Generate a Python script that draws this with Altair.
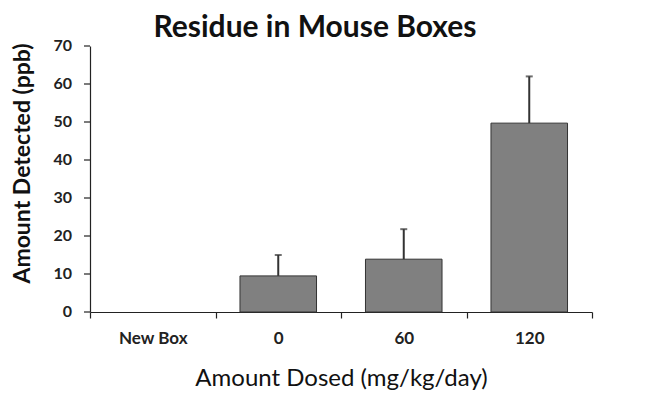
import altair as alt
import pandas as pd

categories = ["New Box", "0", "60", "120"]
values = [0, 9.5, 13.9, 49.7]
errors = [0, 5.5, 7.9, 12.3]
y_ticks = [0, 10, 20, 30, 40, 50, 60, 70]

df = pd.DataFrame({"cat": categories, "val": values, "err": errors})
df["top"] = df["val"] + df["err"]
tdf = pd.DataFrame({"v": y_ticks})

FONT = "Lato"
xscale = alt.Scale(domain=categories, paddingInner=0, paddingOuter=0)
yscale = alt.Scale(domain=[0, 70], nice=False)

x = alt.X("cat:N", sort=categories, title="Amount Dosed (mg/kg/day)", scale=xscale,
          axis=alt.Axis(tickBand="extent", labelAngle=0, labelFontSize=17, labelFontWeight="bold",
                        labelPadding=12, titleFontSize=24, titleFontWeight="normal", titlePadding=20))
y = alt.Y("val:Q", title="Amount Detected (ppb)", scale=yscale,
          axis=alt.Axis(values=y_ticks, grid=False, labels=False, ticks=False,
                        titleFontSize=23, titleFontWeight="bold", titlePadding=56, titleY=117))

base = alt.Chart(df)
bars = base.transform_filter("datum.val > 0").mark_bar(
    color="#808080", stroke="#333", strokeWidth=1, width={"band": 0.61}).encode(x=x, y=y)
err = base.transform_filter("datum.err > 0")
rule = err.mark_rule(color="#333", strokeWidth=2).encode(x=x, y=y, y2="top:Q")
cap = err.mark_tick(color="#333", thickness=2, size=7, orient="horizontal").encode(x=x, y=alt.Y("top:Q"))

tbase = alt.Chart(tdf)
yt = tbase.mark_rule(color="#222", strokeWidth=1.2).encode(
    x=alt.value(-6), x2=alt.value(0), y=alt.Y("v:Q", scale=yscale))
yl = tbase.mark_text(align="right", baseline="middle", fontSize=16, fontWeight="bold",
                     color="#222", font=FONT).encode(
    x=alt.value(-18), y=alt.Y("v:Q", scale=yscale), text=alt.Text("v:Q"))

chart = alt.layer(bars, rule, cap, yt, yl).properties(
    width=502, height=266,
    title=alt.TitleParams("Residue in Mouse Boxes", fontSize=30, fontWeight="bold", color="#111",
                          anchor="middle", offset=-5, font=FONT, dx=-26),
    autosize=alt.AutoSizeParams(type="none"),
    padding={"left": 82, "top": 38, "right": 45, "bottom": 78},
).configure(font=FONT).configure_view(stroke=None).configure_axis(
    domainColor="#222", tickColor="#222", tickSize=6, tickWidth=1.2, domainWidth=1.2,
    labelColor="#222", titleColor="#111", grid=False,
)

chart.save("out.html", embed_options={"renderer": "svg", "actions": False})
